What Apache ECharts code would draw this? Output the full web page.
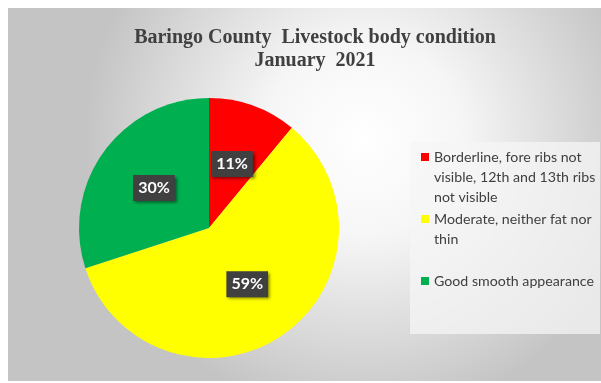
<!DOCTYPE html>
<html>
<head>
<meta charset="utf-8">
<script src="https://cdn.jsdelivr.net/npm/echarts@6/dist/echarts.min.js"></script>
<style>
	html, body { margin: 0; padding: 0; background: #fff; }
	#main { position: absolute; left: 8px; top: 8px; width: 593px; height: 373px; }
</style>
</head>
<body>
<div id="main"></div>
<script>
// 数据
var categories = [
	'Borderline, fore ribs not\nvisible, 12th and 13th ribs\nnot visible',
	'Moderate, neither fat nor\nthin',
	'Good smooth appearance'
];
var values = [11, 59, 30];
var colors = ['#FF0000', '#FFFF00', '#00B050'];
var titleText = 'Baringo County  Livestock body condition\nJanuary  2021';

var myChart = echarts.init(document.getElementById('main'));

// 每个图例单独放，让色块对齐第一行（前面补空行）
var legendTops = [99, 181, 263];
var legends = [];
for (var i = 0; i < categories.length; i++) {
	legends.push({
		data: [categories[i]],
		left: 413,
		top: legendTops[i],
		padding: 0,
		itemWidth: 8,
		itemHeight: 8,
		itemGap: 0,
		icon: 'rect',
		selectedMode: false,
		formatter: function(name) {
			var n = name.split('\n').length;
			var pre = '';
			for (var k = 1; k < n; k++) pre += '\n';
			return pre + name;
		},
		textStyle: {
			fontFamily: 'Lato',
			fontSize: 14.2,
			color: '#404040',
			lineHeight: 20
		}
	});
}

var pieData = [];
for (var j = 0; j < categories.length; j++) {
	pieData.push({ name: categories[j], value: values[j], itemStyle: { color: colors[j] } });
}

option = {
	backgroundColor: {
		type: 'radial',
		x: 0.6, y: 0.35, r: 0.75,
		colorStops: [
			{ offset: 0, color: '#ffffff' },
			{ offset: 0.35, color: '#f6f6f6' },
			{ offset: 1, color: '#c4c4c4' }
		]
	},
	title: {
		text: titleText,
		left: 302,
		top: 13,
		textAlign: 'center',
		textStyle: {
			fontFamily: 'Liberation Serif',
			fontWeight: 'bold',
			fontSize: 20,
			lineHeight: 23,
			color: '#404040'
		}
	},
	graphic: [{
		type: 'rect',
		left: 402,
		top: 134,
		shape: { width: 190, height: 192 },
		style: { fill: 'rgba(245,245,245,0.75)' },
		z: -1
	}],
	legend: legends,
	series: [{
		type: 'pie',
		center: [201, 220],
		radius: 130,
		startAngle: 90,
		clockwise: true,
		animation: false,
		label: {
			show: true,
			position: 'inside',
			formatter: '{c}%',
			fontFamily: 'Lato',
			fontWeight: 'bold',
			fontSize: 16,
			color: '#fff',
			backgroundColor: '#404040',
			padding: [6, 5, 4, 5],
			shadowColor: 'rgba(0,0,0,0.5)',
			shadowBlur: 3,
			shadowOffsetX: 2,
			shadowOffsetY: 2
		},
		labelLine: { show: false },
		emphasis: { scale: false },
		data: pieData
	}]
};

myChart.setOption(option);
window.addEventListener('resize', function() {
	myChart.resize();
});
</script>
</body>
</html>
